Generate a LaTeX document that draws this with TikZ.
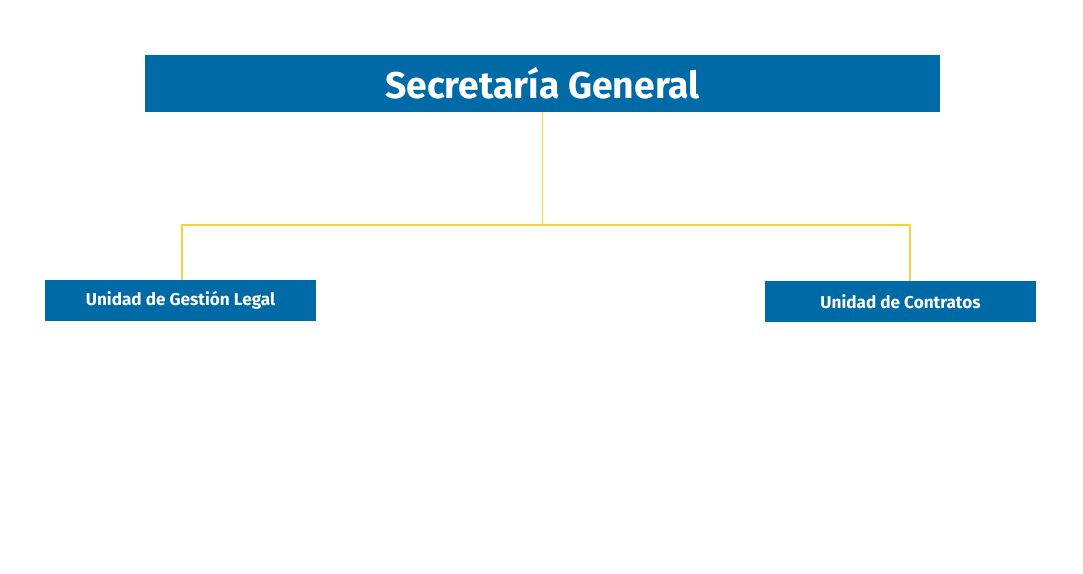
\documentclass[tikz,border=0pt]{standalone}
\usepackage{fontspec}
\setmainfont{Fira Sans}
\usepackage{tikz}
\usetikzlibrary{positioning}
\definecolor{unitblue}{HTML}{006AA6}
\definecolor{lineyellow}{HTML}{F4D43C}
\tikzset{
  unit/.style={fill=unitblue, text=white, font=\bfseries, inner sep=0pt, text centered},
  link/.style={draw=lineyellow, line width=0.9pt}
}

\begin{document}
\begin{tikzpicture}[x=0.025cm, y=-0.025cm]
\useasboundingbox (0,0) rectangle (1083,573);

\path (542.5,83.5) node (general) [unit, minimum width=795*0.025cm, minimum height=57*0.025cm, font=\bfseries\fontsize{26.5}{28}\selectfont] {Secretaría General};

\path (180.5,300.5) node (legal) [unit, minimum width=271*0.025cm, minimum height=41*0.025cm, font=\bfseries\fontsize{12.2}{14}\selectfont] {Unidad de Gestión Legal};
\path (900.5,301.5) node (contratos) [unit, minimum width=271*0.025cm, minimum height=41*0.025cm, font=\bfseries\fontsize{12.2}{14}\selectfont] {Unidad de Contratos};

\coordinate (busL) at (182,225);
\coordinate (busR) at (910,225);

\draw[link] (general.south) -- (general.south |- busL);
\draw[link] (busL |- legal.north) -- (busL) -- (busR) -- (busR |- contratos.north);

\end{tikzpicture}
\end{document}
